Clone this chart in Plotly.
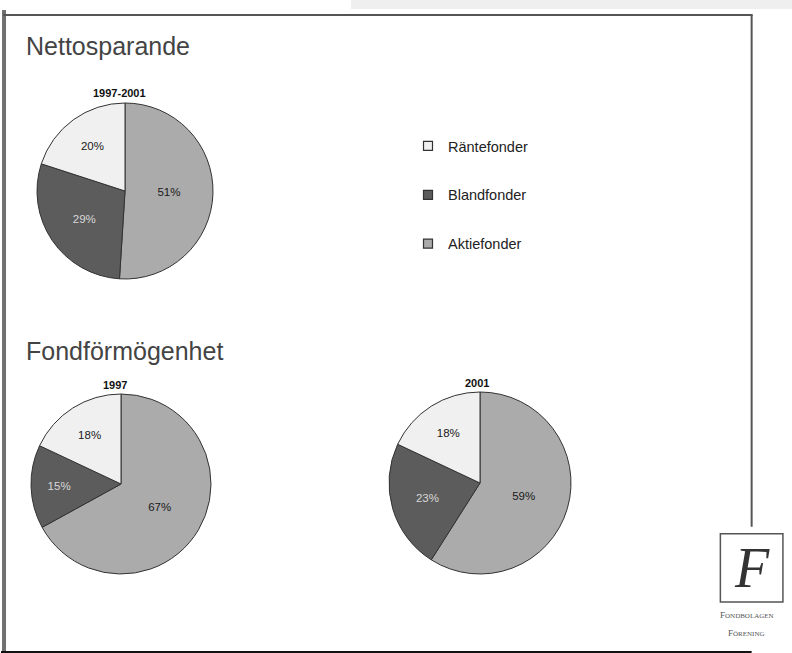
import plotly.graph_objects as go

W, H = 792, 653

# ---- data ----
categories = ["Aktiefonder", "Blandfonder", "Räntefonder"]
netto_1997_2001 = [51, 29, 20]
formogenhet_1997 = [67, 15, 18]
formogenhet_2001 = [59, 23, 18]
pie_titles = ["1997-2001", "1997", "2001"]
section_titles = ["Nettosparande", "Fondförmögenhet"]
legend_order = ["Räntefonder", "Blandfonder", "Aktiefonder"]

colors = {"Aktiefonder": "#ababab", "Blandfonder": "#5c5c5c", "Räntefonder": "#f0f0f0"}
text_colors = {"Aktiefonder": "#1a1a1a", "Blandfonder": "#d8d8d8", "Räntefonder": "#1a1a1a"}


def px(x):
    return x / W


def py(y):
    return 1 - y / H


def dom(cx, cy, r):
    return dict(x=[px(cx - r), px(cx + r)], y=[py(cy + r), py(cy - r)])


fig = go.Figure()

pies = [
    (netto_1997_2001, pie_titles[0], (125, 191, 88)),
    (formogenhet_1997, pie_titles[1], (121, 484, 90)),
    (formogenhet_2001, pie_titles[2], (480, 483, 91)),
]
annotations = []
for vals, title, (cx, cy, r) in pies:
    fig.add_trace(go.Pie(
        labels=categories, values=vals, sort=False, direction="clockwise", rotation=0,
        marker=dict(colors=[colors[c] for c in categories], line=dict(color="#333333", width=1)),
        texttemplate="%{value}%", textposition="inside", insidetextorientation="horizontal",
        textfont=dict(family="Liberation Sans, Arial", size=11.5, color=[text_colors[c] for c in categories]),
        domain=dom(cx, cy, r), showlegend=False, hoverinfo="label+percent",
    ))
    annotations.append(dict(
        text="<b>" + title + "</b>", x=px(cx), y=py(cy - r - 10), xanchor="center", yanchor="middle",
        showarrow=False, font=dict(family="Liberation Sans, Arial", size=11, color="#111111")))

# legend entries
for i, c in enumerate(legend_order):
    fig.add_trace(go.Scatter(
        x=[None], y=[None], mode="markers", name=c, legendgroup=c,
        marker=dict(symbol="square", size=9, color=colors[c], line=dict(color="#333333", width=1.2)),
    ))

shapes = [
    dict(type="rect", x0=px(355), x1=px(792), y0=py(9), y1=py(0), fillcolor="#efefef", line=dict(width=0)),
    dict(type="line", x0=px(11), x1=px(11), y0=py(10), y1=py(650), line=dict(color="#707070", width=4)),
    dict(type="line", x0=px(10), x1=px(753), y0=py(15), y1=py(15), line=dict(color="#555555", width=2)),
    dict(type="line", x0=px(752), x1=px(752), y0=py(15), y1=py(526), line=dict(color="#555555", width=2)),
    dict(type="line", x0=px(8), x1=px(752), y0=py(651), y1=py(651), line=dict(color="#111111", width=2)),
    dict(type="rect", x0=px(721), x1=px(783), y0=py(601), y1=py(533), line=dict(color="#555555", width=1.5)),
]

annotations += [
    dict(text=section_titles[0], x=px(31), y=py(46), xanchor="left", yanchor="middle", showarrow=False,
         font=dict(family="Liberation Sans, Arial", size=25, color="#444444")),
    dict(text=section_titles[1], x=px(31), y=py(350), xanchor="left", yanchor="middle", showarrow=False,
         font=dict(family="Liberation Sans, Arial", size=25, color="#444444")),
    dict(text="<i>F</i>", x=px(752), y=py(567), xanchor="center", yanchor="middle", showarrow=False,
         font=dict(family="Liberation Serif, DejaVu Serif", size=56, color="#333333")),
    dict(text="F<span style='font-size:7px'>ONDBOLAGEN</span>", x=px(747), y=py(614), xanchor="center",
         yanchor="middle", showarrow=False, font=dict(family="Liberation Serif", size=9, color="#555555")),
    dict(text="F<span style='font-size:7px'>ÖRENING</span>", x=px(747), y=py(632), xanchor="center",
         yanchor="middle", showarrow=False, font=dict(family="Liberation Serif", size=9, color="#555555")),
]

fig.update_layout(
    width=W, height=H, margin=dict(l=0, r=0, t=0, b=0),
    paper_bgcolor="#ffffff", plot_bgcolor="#ffffff",
    xaxis=dict(visible=False), yaxis=dict(visible=False),
    legend=dict(x=px(408), y=py(130), xanchor="left", yanchor="top", traceorder="grouped",
                tracegroupgap=27, bgcolor="rgba(0,0,0,0)",
                font=dict(family="Liberation Sans, Arial", size=14.5, color="#222222")),
    shapes=shapes, annotations=annotations,
)

fig.write_html("out.html", config={"displayModeBar": False},
               post_script="document.body.style.margin='0';document.body.style.overflow='hidden';")
